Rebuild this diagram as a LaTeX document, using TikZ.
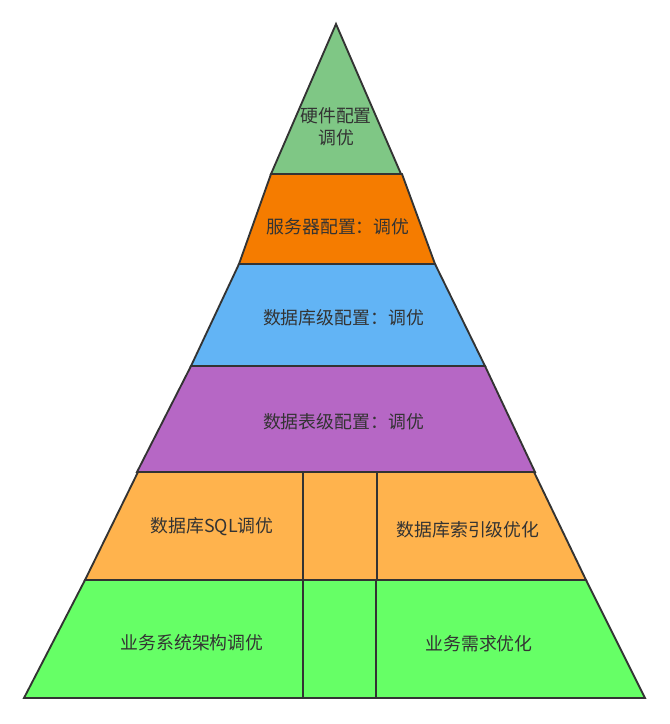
\documentclass[tikz,border=0pt]{standalone}
\usepackage{fontspec}
\newfontfamily\cjk{Noto Sans CJK SC}
\definecolor{cTop}{HTML}{7FC785}
\definecolor{cOrange}{HTML}{F57C00}
\definecolor{cBlue}{HTML}{62B4F5}
\definecolor{cPurple}{HTML}{B667C5}
\definecolor{cLight}{HTML}{FFB34D}
\definecolor{cGreen}{HTML}{66FF66}
\definecolor{cLine}{HTML}{333333}
\tikzset{
  layer/.style={draw=cLine, line width=1.4pt, line join=miter},
  lbl/.style={font=\cjk\fontsize{13.4}{16.5}\selectfont, text=cLine, inner sep=0pt, align=center},
}
\begin{document}
\begin{tikzpicture}[x=0.75pt,y=-0.75pt]
\useasboundingbox (0,0) rectangle (670,724);
% layers
\path[layer, fill=cGreen] (85,580) -- (586,580) -- (645,698) -- (24,698) -- cycle;
\path[layer, fill=cLight] (138,472) -- (534,472) -- (586,580) -- (85,580) -- cycle;
\path[layer, fill=cPurple] (191,366) -- (485,366) -- (535,472) -- (137,472) -- cycle;
\path[layer, fill=cBlue] (239,264) -- (435,264) -- (485,366) -- (191,366) -- cycle;
\path[layer, fill=cOrange] (271,174) -- (402,174) -- (435,264) -- (239,264) -- cycle;
\path[layer, fill=cTop] (336,24) -- (401,174) -- (271,174) -- cycle;
% dividers
\draw[layer] (303,472) -- (303,580);
\draw[layer] (377,472) -- (377,580);
\draw[layer] (303,580) -- (303,698);
\draw[layer] (376,580) -- (376,698);
% labels
\node[lbl] (hw) at (336,127) {硬件配置\\调优};
\node[lbl] (srv) at (338,227) {服务器配置：调优};
\node[lbl] (dbl) at (343.5,318) {数据库级配置：调优};
\node[lbl] (tbl) at (343.5,422) {数据表级配置：调优};
\node[lbl] (sql) at (212,527) {数据库SQL调优};
\node[lbl] (idx) at (468,530) {数据库索引级优化};
\node[lbl] (arch) at (192,643) {业务系统架构调优};
\node[lbl] (req) at (479,644) {业务需求优化};
\end{tikzpicture}
\end{document}
